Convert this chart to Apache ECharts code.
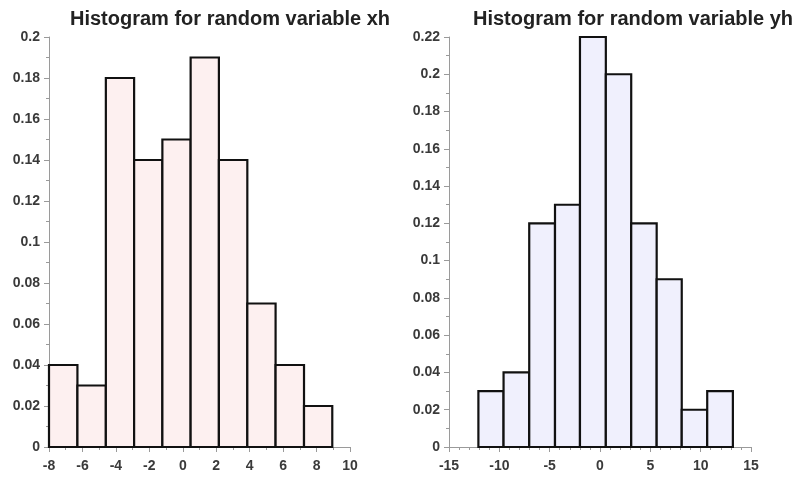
<!DOCTYPE html>
<html>
<head>
<meta charset="utf-8">
<script src="https://cdn.jsdelivr.net/npm/echarts@6/dist/echarts.min.js"></script>
<style>
  html, body { margin: 0; padding: 0; background: #fff; }
  #chart { width: 794px; height: 477px; }
</style>
</head>
<body>
<div id="chart"></div>
<script>
// bin edges and relative frequencies
const xhEdges = [-8.0, -6.3, -4.6, -2.91, -1.22, 0.47, 2.16, 3.86, 5.55, 7.25, 8.94]
const xhFreq = [0.04, 0.03, 0.18, 0.14, 0.15, 0.19, 0.14, 0.07, 0.04, 0.02]

const yhEdges = [-12.08, -9.58, -7.03, -4.47, -1.99, 0.58, 3.1, 5.63, 8.12, 10.65, 13.2]
const yhFreq = [0.03, 0.04, 0.12, 0.13, 0.22, 0.2, 0.12, 0.09, 0.02, 0.03]

const titles = ['Histogram for random variable xh', 'Histogram for random variable yh']

const FONT = 'Liberation Sans, Arial, sans-serif'

function bins(edges, freq) {
  return freq.map((f, i) => [edges[i], edges[i + 1], f])
}

function renderBin(fill) {
  return function (params, api) {
    const p0 = api.coord([api.value(0), 0])
    const p1 = api.coord([api.value(1), api.value(2)])
    return {
      type: 'rect',
      shape: { x: p0[0], y: p1[1], width: p1[0] - p0[0], height: p0[1] - p1[1] },
      style: { fill: fill, stroke: '#111', lineWidth: 2.2 }
    }
  }
}

function axis(opts, minorSplit, margin) {
  return Object.assign({
    type: 'value',
    axisLine: { show: true, onZero: false, lineStyle: { color: '#9a9a9a', width: 1 } },
    axisTick: { show: true, length: 5, lineStyle: { color: '#9a9a9a' } },
    minorTick: { show: true, splitNumber: minorSplit, length: 3, lineStyle: { color: '#9a9a9a' } },
    splitLine: { show: false },
    axisLabel: { color: '#3a3a3a', fontFamily: FONT, fontWeight: 'bold', fontSize: 14, margin: margin }
  }, opts)
}

const titleStyle = { fontFamily: FONT, fontSize: 20, fontWeight: 'bold', color: '#222' }

const chart = echarts.init(document.getElementById('chart'))
chart.setOption({
  animation: false,
  title: [
    { text: titles[0], left: 65, top: 4, textStyle: titleStyle },
    { text: titles[1], left: 468, top: 4, textStyle: titleStyle }
  ],
  grid: [
    { left: 49, top: 37, width: 301, height: 410 },
    { left: 449, top: 37, width: 302, height: 410 }
  ],
  xAxis: [
    axis({ gridIndex: 0, min: -8, max: 10, interval: 2 }, 2, 12),
    axis({ gridIndex: 1, min: -15, max: 15, interval: 5 }, 5, 12)
  ],
  yAxis: [
    axis({ gridIndex: 0, min: 0, max: 0.2, interval: 0.02 }, 2, 9),
    axis({ gridIndex: 1, min: 0, max: 0.22, interval: 0.02 }, 2, 9)
  ],
  series: [
    {
      type: 'custom', xAxisIndex: 0, yAxisIndex: 0,
      renderItem: renderBin('#fdf0f0'),
      encode: { x: [0, 1], y: 2 },
      data: bins(xhEdges, xhFreq)
    },
    {
      type: 'custom', xAxisIndex: 1, yAxisIndex: 1,
      renderItem: renderBin('#f0f0fd'),
      encode: { x: [0, 1], y: 2 },
      data: bins(yhEdges, yhFreq)
    }
  ]
})
</script>
</body>
</html>
